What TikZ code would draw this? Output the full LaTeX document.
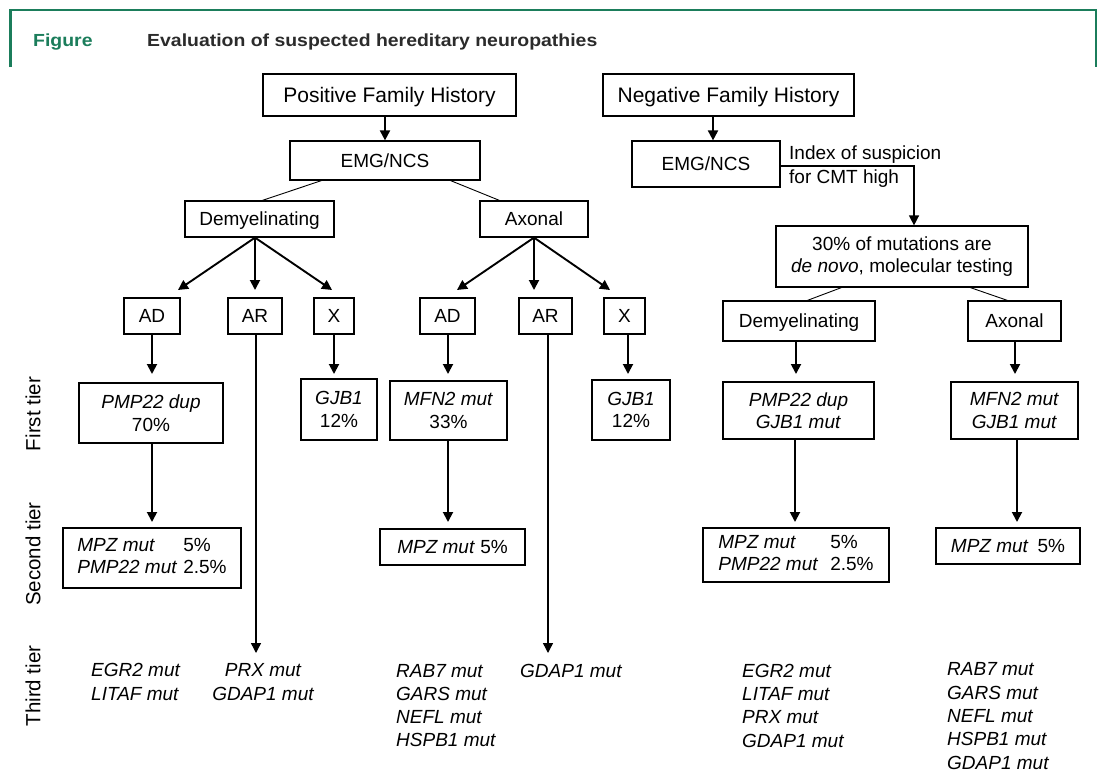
\documentclass[tikz,border=0pt]{standalone}
\usepackage{fontspec}
\setmainfont{Liberation Sans}
\usetikzlibrary{arrows.meta,calc}
\definecolor{figgreen}{HTML}{1B7D5B}
\definecolor{titlegray}{HTML}{2B2B2B}
\begin{document}
\begin{tikzpicture}[x=1pt,y=-1pt,
  box/.style={draw, line width=1.2pt, inner sep=0pt, align=center, font=\fontsize{19}{22.5}\selectfont},
  oneline/.style={text height=13.6pt, text depth=0pt},
  bigbox/.style={box, font=\fontsize{21}{24}\selectfont, text height=15pt, text depth=0pt},
  arr/.style={line width=1.9pt, -{Triangle[length=10pt,width=10pt]}},
  thinline/.style={line width=0.9pt},
  tier/.style={rotate=90, inner sep=0pt, font=\fontsize{20.5}{22}\selectfont},
  third/.style={anchor=west, align=left, inner sep=0pt, font=\fontsize{19}{23.3}\selectfont\itshape},
  plaintext/.style={anchor=base west, inner sep=0pt, font=\fontsize{19}{22}\selectfont},
  head/.style={anchor=base west, inner sep=0pt, font=\fontsize{17.5}{20}\selectfont\bfseries},
]
\useasboundingbox (0,0) rectangle (1102,771);
\fill[white] (0,0) rectangle (1102,771);

% header frame
\draw[figgreen, line width=2.5pt, line join=miter] (10.5,67) -- (10.5,10) -- (1096,10) -- (1096,67);
\node[head, text=figgreen] (figlabel) at (33,46) {\scalebox{1.11}[1]{Figure}};
\node[head, text=titlegray] (figtitle) at (147,46) {\scalebox{1.11}[1]{Evaluation of suspected hereditary neuropathies}};

% tier labels
\node[tier] (tier1) at (33,414) {First tier};
\node[tier] (tier2) at (33,554) {Second tier};
\node[tier] (tier3) at (33,686) {Third tier};

% top boxes
\node[bigbox, minimum width=253pt, minimum height=42pt] (pfh) at (389.5,95) {Positive Family History};
\node[bigbox, minimum width=251pt, minimum height=42pt] (nfh) at (728.5,95) {Negative Family History};
\node[box, oneline, minimum width=190pt, minimum height=39pt] (emg1) at (385,160.5) {EMG/NCS};
\node[box, oneline, minimum width=148pt, minimum height=46pt] (emg2) at (706,164) {EMG/NCS};
\node[plaintext] (idxa) at (789,159.5) {Index of suspicion};
\node[plaintext] (idxb) at (789,183.5) {for CMT high};
\node[box, minimum width=252pt, minimum height=61pt] (mol) at (902,256.5) {30\% of mutations are\\\textit{de novo}, molecular testing};

% second level
\node[box, oneline, minimum width=149pt, minimum height=36pt] (dem1) at (259.5,219) {Demyelinating};
\node[box, oneline, minimum width=108pt, minimum height=36pt] (ax1) at (534,219) {Axonal};
\node[box, oneline, minimum width=152pt, minimum height=40pt] (dem2) at (799,321) {Demyelinating};
\node[box, oneline, minimum width=93pt, minimum height=40pt] (ax2) at (1014.5,321) {Axonal};

% inheritance boxes
\node[box, oneline, minimum width=56pt, minimum height=36pt] (ad1) at (152,316) {AD};
\node[box, oneline, minimum width=54pt, minimum height=36pt] (ar1) at (255,316) {AR};
\node[box, oneline, minimum width=40pt, minimum height=36pt] (x1) at (334,316) {X};
\node[box, oneline, minimum width=55pt, minimum height=36pt] (ad2) at (447.5,316) {AD};
\node[box, oneline, minimum width=53pt, minimum height=36pt] (ar2) at (545.5,316) {AR};
\node[box, oneline, minimum width=41pt, minimum height=36pt] (x2) at (624.5,316) {X};

% first tier
\node[box, minimum width=144pt, minimum height=60pt] (pmp1) at (151,413) {\textit{PMP22 dup}\\70\%};
\node[box, minimum width=76pt, minimum height=61pt] (gjba) at (339,409.5) {\textit{GJB1}\\12\%};
\node[box, minimum width=117pt, minimum height=59pt] (mfn1) at (448.5,410.5) {\textit{MFN2 mut}\\33\%};
\node[box, minimum width=78pt, minimum height=60pt] (gjbb) at (631,410) {\textit{GJB1}\\12\%};
\node[box, minimum width=151pt, minimum height=57pt] (pmp2) at (798.5,410.5) {\textit{PMP22 dup}\\\textit{GJB1 mut}};
\node[box, minimum width=127pt, minimum height=57pt] (mfn2) at (1014.5,410.5) {\textit{MFN2 mut}\\\textit{GJB1 mut}};

% second tier
\node[box, minimum width=178pt, minimum height=60pt] (mpz1) at (152,558) {\begin{tabular}{@{}l@{\hspace{6pt}}l@{}}\textit{MPZ mut} & 5\%\\ \textit{PMP22 mut} & 2.5\%\end{tabular}};
\node[box, oneline, minimum width=145pt, minimum height=36pt] (mpz2) at (452.5,547) {\textit{MPZ mut} 5\%};
\node[box, minimum width=186pt, minimum height=54pt] (mpz3) at (796,555) {\begin{tabular}{@{}l@{\hspace{12pt}}l@{}}\textit{MPZ mut} & 5\%\\ \textit{PMP22 mut} & 2.5\%\end{tabular}};
\node[box, oneline, minimum width=144pt, minimum height=36pt] (mpz4) at (1008,546) {\textit{MPZ mut}\hspace{9pt}5\%};

% third tier
\node[third] (egr1) at (91,682) {EGR2 mut\\LITAF mut};
\node[third, anchor=center, align=center] (prx1) at (263,682) {PRX mut\\GDAP1 mut};
\node[third] (rab1) at (396,705.5) {RAB7 mut\\GARS mut\\NEFL mut\\HSPB1 mut};
\node[third] (gdap2) at (520,671) {GDAP1 mut};
\node[third] (egr2) at (742,705.5) {EGR2 mut\\LITAF mut\\PRX mut\\GDAP1 mut};
\node[third] (rab2) at (947,716) {RAB7 mut\\GARS mut\\NEFL mut\\HSPB1 mut\\GDAP1 mut};

% helper rows
\coordinate (r1) at (0,290);
\coordinate (r2) at (0,374);
\coordinate (r3) at (0,522);
\coordinate (r4) at (0,653);
\coordinate (tipA) at (178,290);
\coordinate (tipC) at (332,290);
\coordinate (tipD) at (457,290);
\coordinate (tipF) at (610,290);
\coordinate (na) at ($(nfh.south)+(-15.5,0)$);
\coordinate (bend) at (914,166);

% connectors, top
\draw[arr] (emg1.north |- pfh.south) -- (emg1.north);
\draw[arr] (na) -- (na |- emg2.north);
\draw[thinline] ($(emg1.south west)+(32,0)$) -- ($(dem1.north west)+(78,0)$);
\draw[thinline] ($(emg1.south east)+(-30,0)$) -- ($(ax1.north west)+(20,0)$);
\draw[arr, line width=1.4pt] (emg2.east |- bend) -- (bend) -- (bend |- mol.north);
\draw[thinline] ($(mol.south west)+(66,0)$) -- ($(dem2.north west)+(85,0)$);
\draw[thinline] ($(mol.south west)+(195,0)$) -- ($(ax2.north west)+(40,0)$);

% connectors, to inheritance
\coordinate (dsrc) at (dem1.south -| ar1.north);
\draw[arr] (dsrc) -- (tipA);
\draw[arr] (dsrc) -- (ar1.north |- r1);
\draw[arr] (dsrc) -- (tipC);
\draw[arr] (ax1.south) -- (tipD);
\draw[arr] (ax1.south) -- (ax1.south |- r1);
\draw[arr] (ax1.south) -- (tipF);

% connectors, to first tier
\draw[arr] (ad1.south) -- (ad1.south |- r2);
\draw[arr] (x1.south) -- (x1.south |- r2);
\coordinate (a2d) at ($(ad2.south)+(0.5,0)$);
\draw[arr] (a2d) -- (a2d |- r2);
\coordinate (x2s) at ($(x2.south)+(3.5,0)$);
\draw[arr] (x2s) -- (x2s |- r2);
\coordinate (d2s) at ($(dem2.south)+(-3,0)$);
\draw[arr] (d2s) -- (d2s |- r2);
\coordinate (x3s) at ($(ax2.south)+(0.5,0)$);
\draw[arr] (x3s) -- (x3s |- r2);

% long AR arrows
\coordinate (a1s) at ($(ar1.south)+(1,0)$);
\draw[arr, line width=1.4pt] (a1s) -- (a1s |- r4);
\coordinate (a2s) at ($(ar2.south)+(2.5,0)$);
\draw[arr, line width=1.4pt] (a2s) -- (a2s |- r4);

% connectors, to second tier
\draw[arr] (pmp1.south -| ad1.south) -- (ad1.south |- r3);
\coordinate (m1s) at ($(mfn1.south)+(-0.5,0)$);
\draw[arr] (m1s) -- (m1s |- r3);
\coordinate (p2s) at ($(pmp2.south)+(-3.5,0)$);
\draw[arr] (p2s) -- (p2s |- r3);
\coordinate (m2s) at ($(mfn2.south)+(2.5,0)$);
\draw[arr] (m2s) -- (m2s |- r3);
\end{tikzpicture}
\end{document}
